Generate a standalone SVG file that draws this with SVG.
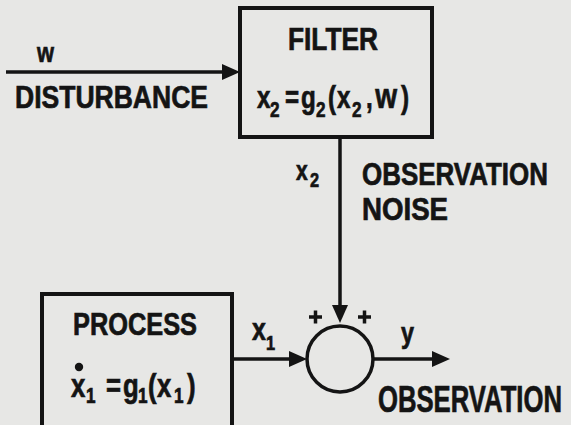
<svg xmlns="http://www.w3.org/2000/svg" width="571" height="425" viewBox="0 0 571 425">
<defs>
<style>
.t{font-family:"Liberation Sans",Arial,sans-serif;font-weight:bold;fill:#141414;stroke:#141414;stroke-width:0.7;}
.ln{stroke:#141414;stroke-width:3.5;fill:none;}
.box{stroke:#141414;stroke-width:4;fill:none;}
</style>
<marker id="ah" markerUnits="userSpaceOnUse" markerWidth="18" markerHeight="16" refX="7" refY="8" orient="auto" viewBox="0 0 18 16">
<path d="M0,0 L18,8 L0,16 z" fill="#141414"/>
</marker>
</defs>
<rect width="571" height="425" fill="#e7e7e5"/>
<g id="connectors">
<line class="ln" x1="6" y1="72" x2="229" y2="72" marker-end="url(#ah)"/>
<line class="ln" x1="340" y1="137" x2="340" y2="312" marker-end="url(#ah)"/>
<line class="ln" x1="232" y1="359" x2="296" y2="359" marker-end="url(#ah)"/>
<line class="ln" x1="374" y1="359" x2="439" y2="359" marker-end="url(#ah)"/>
<text class="t" x="37" y="62" font-size="27" textLength="17" lengthAdjust="spacingAndGlyphs">w</text>
<text class="t" x="15" y="108" font-size="32" textLength="193" lengthAdjust="spacingAndGlyphs">DISTURBANCE</text>
<text class="t" transform="scale(0.78,1)" y="180" font-size="27"><tspan x="379.5">x</tspan><tspan x="397.4" y="187" font-size="21">2</tspan></text>
<text class="t" transform="scale(0.837,1)" x="432.5" y="185" font-size="31">OBSERVATION</text>
<text class="t" x="362" y="220" font-size="31" textLength="86" lengthAdjust="spacingAndGlyphs">NOISE</text>
<text class="t" transform="scale(0.78,1)" y="340" font-size="32"><tspan x="323.1">x</tspan><tspan x="341" y="350" font-size="21">1</tspan></text>
<text class="t" transform="scale(0.78,1)" x="514.1" y="343" font-size="30">y</text>
<text class="t" transform="scale(0.694,1)" x="544.7" y="412" font-size="37">OBSERVATION</text>
</g>
<g id="filter">
<rect class="box" x="240" y="8" width="192" height="129"/>
<text class="t" x="288" y="50" font-size="31" textLength="90" lengthAdjust="spacingAndGlyphs">FILTER</text>
<text class="t" transform="scale(0.78,1)" y="108" font-size="31"><tspan x="329.5">x</tspan><tspan x="346.2" y="117" font-size="22">2</tspan><tspan x="365.4" y="108">=</tspan><tspan x="385.9">g</tspan><tspan x="405.1" y="117" font-size="22">2</tspan><tspan x="420.5" y="108">(</tspan><tspan x="432.1">x</tspan><tspan x="451.3" y="117" font-size="22">2</tspan><tspan x="469.2" y="108">,</tspan><tspan x="481" font-size="36">w</tspan><tspan x="514">)</tspan></text>
</g>
<g id="process">
<rect class="box" x="42" y="294" width="190" height="140"/>
<text class="t" x="73" y="335" font-size="31" textLength="124" lengthAdjust="spacingAndGlyphs">PROCESS</text>
<circle cx="79" cy="367" r="4.2" fill="#141414"/>
<text class="t" transform="scale(0.78,1)" y="397" font-size="33"><tspan x="91">x</tspan><tspan x="110.3" y="403" font-size="22">1</tspan><tspan x="135.9" y="397">=</tspan><tspan x="157.7">g</tspan><tspan x="176.9" y="403" font-size="22">1</tspan><tspan x="189.7" y="397">(</tspan><tspan x="201.3">x</tspan><tspan x="223.1" y="403" font-size="22">1</tspan><tspan x="239.7" y="397">)</tspan></text>
</g>
<g id="sum">
<circle class="ln" cx="340" cy="359" r="33"/>
<path class="ln" d="M309,317 h13 M315.5,310.5 v13 M358,317 h13 M364.5,310.5 v13" stroke-width="3.2"/>
</g>
</svg>
